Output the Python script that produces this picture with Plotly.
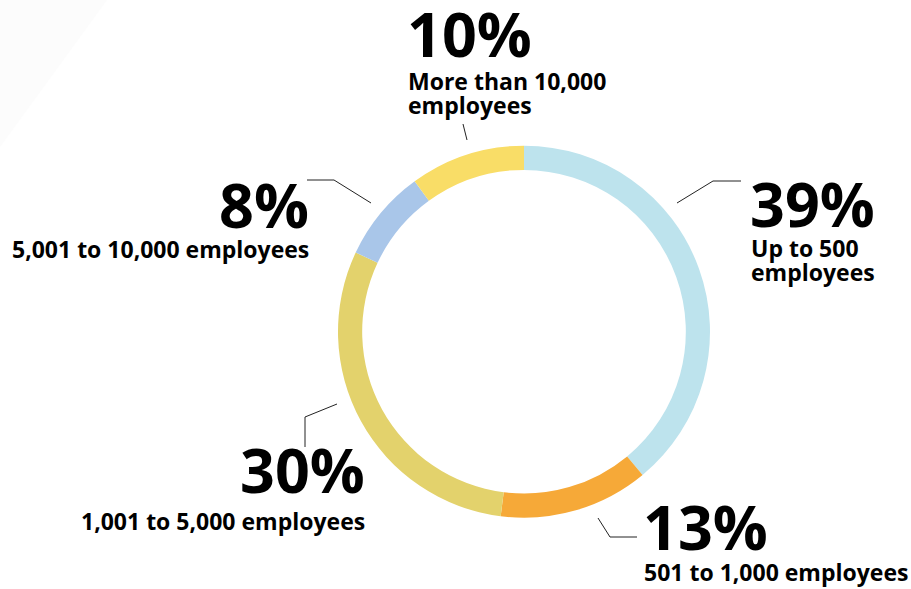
import plotly.graph_objects as go

# ---- data ----
categories = ["Up to 500 employees", "501 to 1,000 employees", "1,001 to 5,000 employees",
              "5,001 to 10,000 employees", "More than 10,000 employees"]
values = [39, 13, 30, 8, 10]
label_lines = [["Up to 500", "employees"], ["501 to 1,000 employees"], ["1,001 to 5,000 employees"],
               ["5,001 to 10,000 employees"], ["More than 10,000", "employees"]]
colors = ["#BDE3ED", "#F6A938", "#E3D26C", "#A9C6E9", "#F9DD67"]

W, H = 911, 589
FONT = "Open Sans"


def px(x):
    return x / W


def py(y):
    return 1 - y / H


fig = go.Figure()
fig.add_trace(go.Pie(
    labels=categories, values=values, sort=False, direction="clockwise", rotation=0,
    hole=0.87, marker=dict(colors=colors, line=dict(width=0)),
    textinfo="none", hoverinfo="label+percent", showlegend=False,
    domain=dict(x=[px(338), px(710)], y=[py(517.7), py(145.7)]),
))

# label layout: (anchor x, xanchor, pct baseline y, first label baseline y, line spacing)
label_pos = [
    (748, "left", 227, 257, 24),
    (641, "left", 550, 581, 24),
    (367, "right", 493, 530, 24),
    (311, "right", 228, 258, 24),
    (405, "left", 57, 90, 24),
]
leaders = [
    [(677, 203), (713, 181), (741, 181)],
    [(598, 518), (610, 537), (637, 537)],
    [(337, 404), (305, 417), (305, 447)],
    [(371, 203), (334, 180), (307, 180)],
    [(467, 140), (463, 124)],
]

BIG = 61
SMALL = 23
annotations = []
for i, v in enumerate(values):
    x, xa, yb, yl, ls = label_pos[i]
    annotations.append(dict(
        x=px(x), y=py(yb - 0.388 * BIG), xref="paper", yref="paper",
        text=f"<b>{v}%</b>", showarrow=False, xanchor=xa, yanchor="middle",
        font=dict(family=FONT, size=BIG, color="#000000", weight=800),
    ))
    for j, line in enumerate(label_lines[i]):
        annotations.append(dict(
            x=px(x + (1 if xa == "left" else 0)), y=py(yl + j * ls - 0.388 * SMALL),
            xref="paper", yref="paper",
            text=f"<b>{line}</b>", showarrow=False, xanchor=xa, yanchor="middle",
            font=dict(family=FONT, size=SMALL, color="#000000", weight=800),
        ))

shapes = [dict(type="path", xref="paper", yref="paper",
               path=f"M {px(0)} {py(0)} L {px(107)} {py(0)} L {px(0)} {py(147)} Z",
               fillcolor="#FCFCFC", line=dict(width=0), layer="below")]
for pts in leaders:
    path = "M " + " L ".join(f"{px(a)} {py(b)}" for a, b in pts)
    shapes.append(dict(type="path", xref="paper", yref="paper", path=path,
                       line=dict(color="#222222", width=1)))

fig.update_layout(
    width=W, height=H, margin=dict(l=0, r=0, t=0, b=0),
    paper_bgcolor="#FFFFFF", plot_bgcolor="#FFFFFF",
    annotations=annotations, shapes=shapes,
)

fig.write_html("out.html", config={"displayModeBar": False},
               post_script="document.body.style.margin='0';")
